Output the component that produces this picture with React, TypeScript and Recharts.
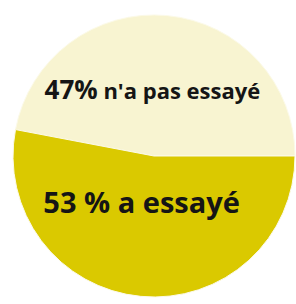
import { PieChart, Pie, Cell } from "recharts";

const names = ["n'a pas essayé", "a essayé"];
const values = [47, 53];
const pctLabels = ["47%", "53 %"];
const colors = ["#f8f4d1", "#dac900"];

const data = names.map((name, i) => ({ name, value: values[i] }));

const RAD = Math.PI / 180;

function renderLabel(props: any) {
  const { cx, cy, midAngle, outerRadius, index } = props;
  const r = outerRadius * 0.406;
  const x = cx + r * Math.cos(-midAngle * RAD) - 7;
  const y = cy + r * Math.sin(-midAngle * RAD);
  const pctSize = index === 0 ? 26 : 29;
  const textSize = index === 0 ? 22 : 29;
  return (
    <text
      x={x}
      y={y}
      textAnchor="middle"
      fill="#151515"
      fontFamily="'Open Sans', sans-serif"
      fontWeight={700}
    >
      <tspan fontSize={pctSize}>{pctLabels[index]}</tspan>
      <tspan fontSize={textSize}> {names[index]}</tspan>
    </text>
  );
}

export default function App() {
  return (
    <div style={{ position: "absolute", left: 0, top: 0, width: 296, height: 304, background: "#fff" }}>
      <PieChart width={296} height={304} margin={{ top: 0, right: 0, bottom: 0, left: 0 }}>
        <Pie
          data={data}
          dataKey="value"
          cx={154}
          cy={156}
          outerRadius={141}
          startAngle={0}
          endAngle={360}
          stroke="#fcfae8"
          strokeWidth={1}
          label={renderLabel}
          labelLine={false}
          isAnimationActive={false}
        >
          {data.map((d, i) => (
            <Cell key={d.name} fill={colors[i]} />
          ))}
        </Pie>
      </PieChart>
    </div>
  );
}
